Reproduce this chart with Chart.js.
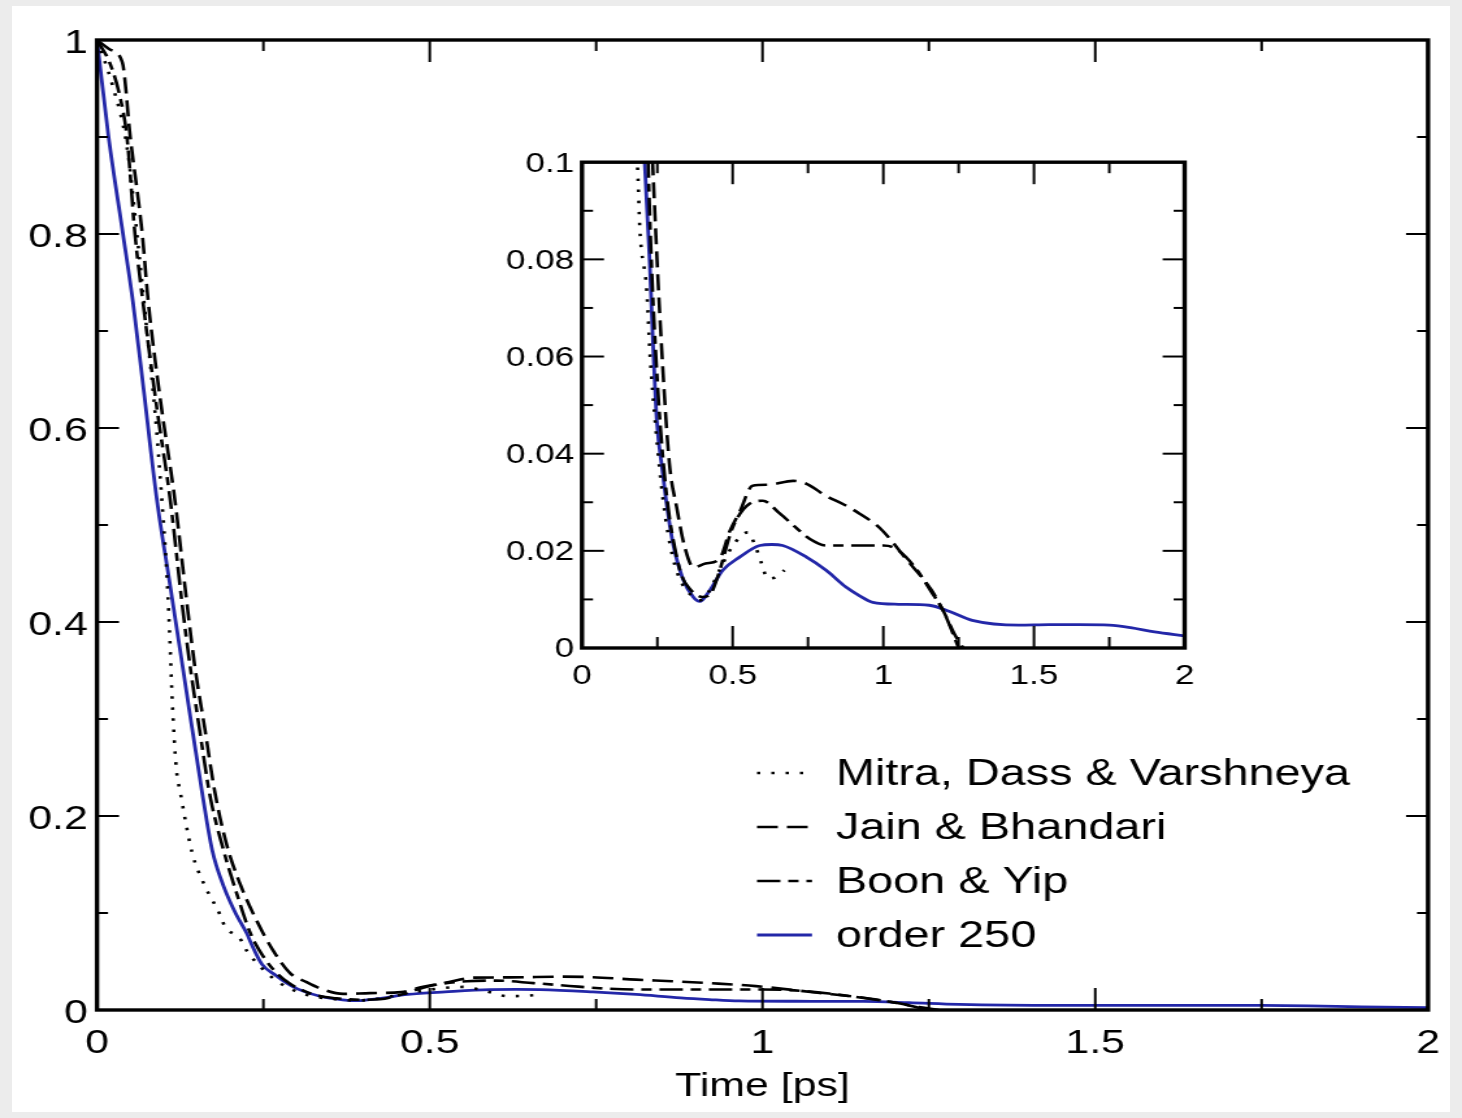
<!DOCTYPE html>
<html>
<head>
<title>Correlation function vs time</title>
<script src="https://cdn.jsdelivr.net/npm/chart.js@4"></script>
<style>
  html, body { margin: 0; padding: 0; background: #ececec; }
  #page { position: relative; width: 1462px; height: 1118px; overflow: hidden; }
  #sheet { position: absolute; left: 12px; top: 6px; width: 1438px; height: 1106px; background: #fff; }
  canvas { position: absolute; }
</style>
</head>
<body>
<div id="page">
  <div id="sheet"></div>
  <canvas id="mainChart" width="1125" height="1118" style="left:0;top:0;width:1462px;height:1118px"></canvas>
  <canvas id="insetChart" width="554" height="560" style="left:490px;top:140px;width:720px;height:560px"></canvas>
</div>
<script>
// the picture is stretched sideways, so each canvas is drawn narrow and widened by CSS
const SX = 1462 / 1125;
const SXI = 720 / 554;

const xTickLabels = ['0', '0.5', '1', '1.5', '2'];
const yTickLabels = ['0', '0.2', '0.4', '0.6', '0.8', '1'];
const insetYTickLabels = ['0', '0.02', '0.04', '0.06', '0.08', '0.1'];

const seriesNames = ['Mitra, Dass & Varshneya', 'Jain & Bhandari', 'Boon & Yip', 'order 250'];

// time [ps] and values for each curve
const mitraT = [0, 0.023, 0.045, 0.06, 0.075, 0.088, 0.097, 0.104, 0.109, 0.113, 0.119, 0.125, 0.143, 0.16, 0.185, 0.192, 0.215, 0.225, 0.245, 0.27, 0.3, 0.33, 0.36, 0.39, 0.42, 0.46, 0.5, 0.55, 0.575, 0.596, 0.616, 0.64, 0.672];
const mitraY = [1, 0.954, 0.89, 0.8, 0.7, 0.61, 0.53, 0.46, 0.39, 0.32, 0.25, 0.225, 0.162, 0.131, 0.098, 0.0863, 0.0734, 0.061, 0.045, 0.03, 0.019, 0.0135, 0.011, 0.0098, 0.0115, 0.0165, 0.021, 0.0238, 0.021, 0.0174, 0.0143, 0.0145, 0.016];

const jainT = [0, 0.02, 0.038, 0.05, 0.068, 0.077, 0.095, 0.117, 0.135, 0.147, 0.162, 0.177, 0.195, 0.215, 0.24, 0.264, 0.29, 0.314, 0.34, 0.37, 0.41, 0.457, 0.49, 0.523, 0.566, 0.62, 0.7, 0.745, 0.81, 0.864, 0.92, 0.99, 1.08, 1.16, 1.2, 1.235, 1.265];
const jainY = [1, 0.99, 0.977, 0.9, 0.8, 0.73, 0.63, 0.526, 0.42, 0.354, 0.29, 0.225, 0.17, 0.13, 0.092, 0.062, 0.038, 0.029, 0.021, 0.0166, 0.0174, 0.0184, 0.024, 0.028, 0.0334, 0.0336, 0.0344, 0.0338, 0.0313, 0.0297, 0.0277, 0.0246, 0.018, 0.0119, 0.0075, 0.003, 0];

const boonT = [0, 0.02, 0.035, 0.045, 0.057, 0.069, 0.09, 0.11, 0.129, 0.14, 0.155, 0.17, 0.19, 0.21, 0.23, 0.25, 0.27, 0.29, 0.31, 0.33, 0.36, 0.4, 0.425, 0.45, 0.5, 0.556, 0.6, 0.656, 0.71, 0.755, 0.81, 0.9, 1.0, 1.04, 1.1, 1.16, 1.2, 1.25];
const boonY = [1, 0.975, 0.94, 0.9, 0.8, 0.73, 0.62, 0.526, 0.412, 0.354, 0.285, 0.22, 0.165, 0.12, 0.08, 0.055, 0.038, 0.027, 0.02, 0.015, 0.012, 0.0105, 0.011, 0.0146, 0.0248, 0.0297, 0.0303, 0.0277, 0.0248, 0.0225, 0.0211, 0.0211, 0.0211, 0.0205, 0.017, 0.0115, 0.0075, 0];

const order250T = [0, 0.017, 0.039, 0.054, 0.07, 0.09, 0.11, 0.13, 0.158, 0.173, 0.19, 0.208, 0.225, 0.232, 0.248, 0.268, 0.28, 0.302, 0.335, 0.369, 0.391, 0.42, 0.467, 0.523, 0.59, 0.63, 0.666, 0.745, 0.81, 0.877, 0.92, 0.965, 1.05, 1.152, 1.22, 1.295, 1.45, 1.55, 1.65, 1.75, 1.82, 1.9, 2.0];
const order250Y = [1, 0.902, 0.8, 0.73, 0.64, 0.526, 0.437, 0.348, 0.224, 0.165, 0.128, 0.1, 0.079, 0.068, 0.047, 0.036, 0.03, 0.0215, 0.0142, 0.0105, 0.0096, 0.0115, 0.016, 0.0187, 0.0211, 0.0213, 0.0211, 0.0187, 0.016, 0.0125, 0.0108, 0.0094, 0.009, 0.0088, 0.0075, 0.0057, 0.0047, 0.0048, 0.0048, 0.0047, 0.0042, 0.0033, 0.0025];

function points(t, v) {
  return t.map((tt, i) => ({ x: tt, y: v[i] }));
}

function makeDatasets() {
  return [
    { label: seriesNames[0], data: points(mitraT, mitraY), borderColor: '#000', borderWidth: 2.6, borderDash: [2.5, 8.5] },
    { label: seriesNames[1], data: points(jainT, jainY), borderColor: '#000', borderWidth: 2.6, borderDash: [16, 7] },
    { label: seriesNames[2], data: points(boonT, boonY), borderColor: '#000', borderWidth: 2.6, borderDash: [18, 6, 8, 6] },
    { label: seriesNames[3], data: points(order250T, order250Y), borderColor: '#2327a8', borderWidth: 2.8 }
  ];
}

// box round the plot with inward ticks on all four sides
const frameTicks = {
  id: 'frameTicks',
  afterDraw(chart, args, opts) {
    const { ctx, chartArea: a, scales: { x, y } } = chart;
    ctx.save();
    ctx.strokeStyle = '#000';
    ctx.lineWidth = 2;
    const mark = (x1, y1, x2, y2) => { ctx.beginPath(); ctx.moveTo(x1, y1); ctx.lineTo(x2, y2); ctx.stroke(); };
    const nx = Math.round((x.max - x.min) / opts.xMinor);
    for (let i = 1; i < nx; i++) {
      const px = x.getPixelForValue(x.min + i * opts.xMinor);
      const len = i % 2 === 0 ? opts.major : opts.minor;
      mark(px, a.bottom, px, a.bottom - len);
      mark(px, a.top, px, a.top + len);
    }
    const ny = Math.round((y.max - y.min) / opts.yMinor);
    for (let i = 1; i < ny; i++) {
      const py = y.getPixelForValue(y.min + i * opts.yMinor);
      const len = (i % 2 === 0 ? opts.major : opts.minor) / opts.sx;
      mark(a.left, py, a.left + len, py);
      mark(a.right, py, a.right - len, py);
    }
    ctx.lineWidth = 3.4;
    ctx.strokeRect(a.left, a.top, a.right - a.left, a.bottom - a.top);
    ctx.restore();
  }
};

const insideLegend = {
  id: 'insideLegend',
  afterDraw(chart, args, opts) {
    if (!opts.show) return;
    const ctx = chart.ctx;
    ctx.save();
    ctx.font = opts.font;
    ctx.textBaseline = 'middle';
    chart.data.datasets.forEach((ds, i) => {
      const yy = opts.top + i * opts.rowGap;
      ctx.strokeStyle = ds.borderColor;
      ctx.lineWidth = ds.borderWidth;
      ctx.setLineDash(ds.borderDash || []);
      ctx.beginPath();
      ctx.moveTo(opts.lineX, yy);
      ctx.lineTo(opts.lineX + opts.lineLen, yy);
      ctx.stroke();
      ctx.setLineDash([]);
      ctx.fillStyle = '#000';
      ctx.fillText(ds.label, opts.textX, yy + 2);
    });
    ctx.restore();
  }
};

const fontFamily = "'Liberation Sans', Arial, Helvetica, sans-serif";

function baseOptions(c) {
  return {
    responsive: false,
    animation: false,
    events: [],
    layout: { padding: { left: 0, top: c.top, right: c.right, bottom: 0 } },
    elements: {
      point: { radius: 0 },
      line: { cubicInterpolationMode: 'monotone', fill: false }
    },
    scales: {
      x: {
        type: 'linear', min: 0, max: 2,
        afterFit: s => { s.height = c.xHeight; },
        grid: { display: false, drawTicks: false },
        border: { display: false },
        ticks: {
          stepSize: 0.5, autoSkip: false, maxRotation: 0, color: '#000', padding: c.xPad,
          font: { family: fontFamily, size: c.tickSize },
          callback: (v, i) => xTickLabels[i]
        },
        title: c.title ? {
          display: true, text: c.title, color: '#000',
          font: { family: fontFamily, size: 33 }, padding: { top: 0, bottom: 11 }
        } : { display: false }
      },
      y: {
        type: 'linear', min: 0, max: c.yMax,
        afterFit: s => { s.width = c.yWidth; },
        grid: { display: false, drawTicks: false },
        border: { display: false },
        ticks: {
          stepSize: c.yStep, autoSkip: false, color: '#000', padding: c.yPad,
          labelOffset: c.yLabelShift,
          font: { family: fontFamily, size: c.tickSize },
          callback: (v, i) => c.yLabels[i]
        }
      }
    },
    plugins: {
      legend: { display: false },
      tooltip: { enabled: false },
      frameTicks: { xMinor: 0.25, yMinor: c.yStep / 2, major: 22, minor: 11, sx: c.sx },
      insideLegend: c.legend || { show: false }
    }
  };
}

new Chart(document.getElementById('mainChart'), {
  type: 'line',
  data: { datasets: makeDatasets() },
  options: baseOptions({
    top: 40, right: 1125 - 1428 / SX, xHeight: 108, yWidth: 97 / SX,
    xPad: 14, yPad: 7, yLabelShift: 4, tickSize: 33, yMax: 1, yStep: 0.2, yLabels: yTickLabels,
    title: 'Time [ps]', sx: SX,
    legend: {
      show: true, font: '36px ' + fontFamily, top: 773, rowGap: 54,
      lineX: 757 / SX, lineLen: 55 / SX, textX: 836 / SX
    }
  }),
  plugins: [frameTicks, insideLegend]
});

new Chart(document.getElementById('insetChart'), {
  type: 'line',
  data: { datasets: makeDatasets() },
  options: baseOptions({
    top: 20, right: 554 - (1186 - 490) / SXI, xHeight: 52, yWidth: (582 - 490) / SXI,
    xPad: 12, yPad: 6, yLabelShift: 2, tickSize: 27, yMax: 0.1, yStep: 0.02, yLabels: insetYTickLabels,
    title: null, sx: SXI
  }),
  plugins: [frameTicks, insideLegend]
});
</script>
</body>
</html>
